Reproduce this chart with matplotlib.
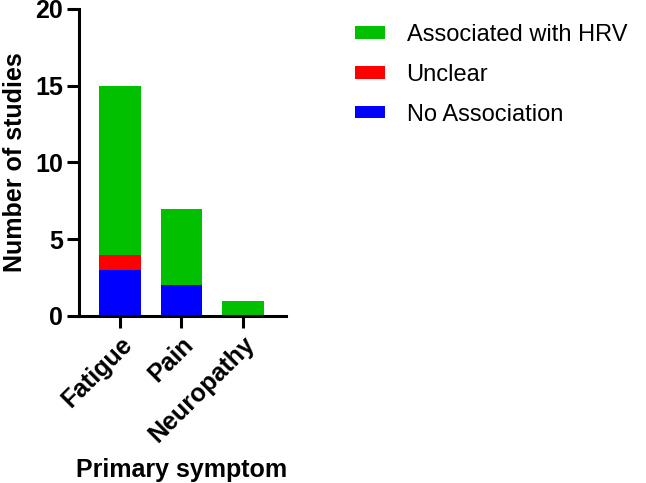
import numpy as np
import matplotlib
matplotlib.use("Agg")
import matplotlib.pyplot as plt

plt.rcParams['font.family'] = ['Liberation Sans', 'DejaVu Sans']

# data
symptoms = ['Fatigue', 'Pain', 'Neuropathy']
no_assoc = [3, 2, 0]
unclear = [1, 0, 0]
associated = [11, 5, 1]

green = '#00C000'
red = '#FF0000'
blue = '#0000FF'

fig = plt.figure(figsize=(6.46, 4.83), dpi=100)
ax = fig.add_axes([0.1223, 0.3458, 0.3204, 0.6356])

x = np.arange(len(symptoms))
w = 0.67
b1 = ax.bar(x, no_assoc, w, color=blue, label='No Association')
b2 = ax.bar(x, unclear, w, bottom=no_assoc, color=red, label='Unclear')
bottom2 = np.array(no_assoc) + np.array(unclear)
b3 = ax.bar(x, associated, w, bottom=bottom2, color=green, label='Associated with HRV')

ax.set_xlim(-0.667, 2.7)
ax.set_ylim(0, 20)
ax.set_yticks([0, 5, 10, 15, 20])
ax.set_xticks(x)
ax.set_xticklabels(symptoms, rotation=45, ha='right', rotation_mode='anchor')

for s in ['top', 'right']:
    ax.spines[s].set_visible(False)
for s in ['left', 'bottom']:
    ax.spines[s].set_linewidth(2.2)
ax.tick_params(width=2.2, length=8.5, labelsize=18, pad=3)
for lab in ax.get_xticklabels() + ax.get_yticklabels():
    lab.set_fontweight('bold')

ax.set_ylabel('Number of studies', fontsize=18, fontweight='bold', labelpad=6)
ax.set_xlabel('Primary symptom', fontsize=18, fontweight='bold', va='center')
ax.xaxis.set_label_coords(0.4976, -0.502)

fig.legend(handles=[b3, b2, b1], labels=['Associated with HRV', 'Unclear', 'No Association'],
           loc='upper left', bbox_to_anchor=(0.516, 0.995), frameon=False,
           fontsize=17, handlelength=1.3, handleheight=0.45, labelspacing=0.76,
           handletextpad=0.9)

fig.savefig('out.png', dpi=100)
